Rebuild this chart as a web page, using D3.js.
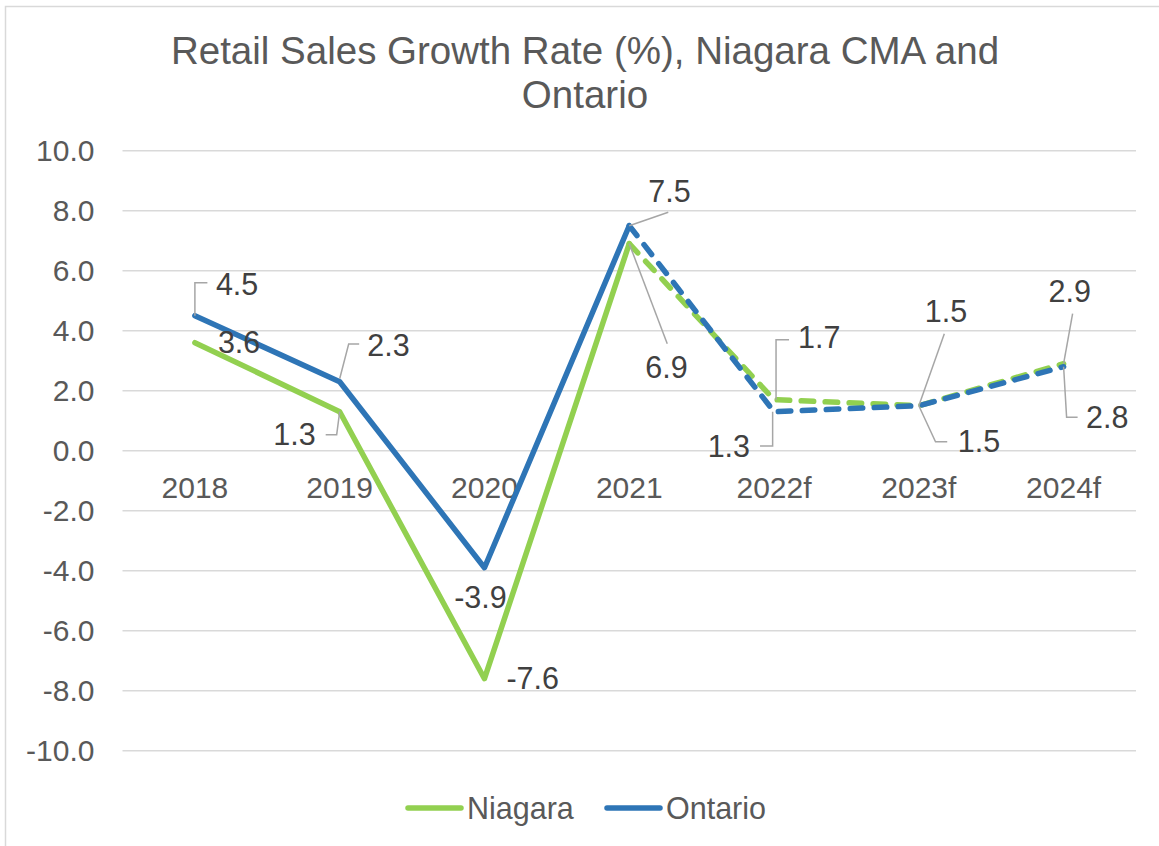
<!DOCTYPE html>
<html>
<head>
<meta charset="utf-8">
<script src="https://cdn.jsdelivr.net/npm/d3@7"></script>
<style>
  body { margin: 0; background: white; }
  text { font-family: "Liberation Sans", Arial, sans-serif; }
</style>
</head>
<body>
<div id="chart"></div>
<script>
// data
const years = ["2018", "2019", "2020", "2021", "2022f", "2023f", "2024f"];
const niagara = [3.6, 1.3, -7.6, 6.9, 1.7, 1.5, 2.9];
const ontario = [4.5, 2.3, -3.9, 7.5, 1.3, 1.5, 2.8];
const yTicks = [-10, -8, -6, -4, -2, 0, 2, 4, 6, 8, 10];
// index where the forecast (dashed) part starts
const forecastFrom = 3;

// label placement, offsets from the point (tx,ty = text, pts = leader line)
const niagaraLabels = [
  {tx: 23, ty: 0, anchor: "start"},
  {tx: -24, ty: 23, anchor: "end", pts: [[0, 0], [-3, 23], [-14, 23]]},
  {tx: 22, ty: 0, anchor: "start"},
  {tx: 16, ty: 124, anchor: "start", pts: [[0, 0], [38, 100]]},
  {tx: 24, ty: -62, anchor: "start", pts: [[2, 0], [2, -60], [15, -60]]},
  {tx: 6, ty: -94, anchor: "start", pts: [[0, 0], [25.5, -72]]},
  {tx: -15, ty: -72, anchor: "start", pts: [[0, 0], [9, -50]]}
];
const ontarioLabels = [
  {tx: 21, ty: -31, anchor: "start", pts: [[0, 0], [0, -33], [12.5, -33]]},
  {tx: 27.6, ty: -36.7, anchor: "start", pts: [[0, -3], [9, -37.7], [19.5, -37.7]]},
  {tx: -4, ty: 30, anchor: "middle"},
  {tx: 19, ty: -34, anchor: "start", pts: [[0, 0], [39, -13.4]]},
  {tx: -24, ty: 35, anchor: "end", pts: [[-1.4, 0], [-1.4, 34.3], [-14, 34.3]]},
  {tx: 39, ty: 36, anchor: "start", pts: [[0, 0], [16.7, 36], [28.4, 36]]},
  {tx: 22.4, ty: 50.6, anchor: "start", pts: [[0, 0], [3, 50.6], [14, 50.6]]}
];

const green = "#92D050";
const blue = "#2E75B6";

let width = 1159;
let height = 846;

let margin = {top: 150.7, bottom: 95.3, left: 122.5, right: 23};

let svg = d3.select("#chart").append("svg")
  .attr("width", width)
  .attr("height", height)
  .style("background", "white");

// chart area border
svg.append("rect")
  .attr("x", 5.5).attr("y", 6.5)
  .attr("width", 1200).attr("height", 900)
  .attr("fill", "none")
  .attr("stroke", "#d9d9d9")
  .attr("stroke-width", 1.5);

// scales
let x = d3.scaleBand()
  .domain(years)
  .range([margin.left, width - margin.right]);

let y = d3.scaleLinear()
  .domain([-10, 10])
  .range([height - margin.bottom, margin.top]);

// gridlines
svg.append("g")
  .selectAll("line")
  .data(yTicks)
  .enter()
  .append("line")
  .attr("x1", margin.left)
  .attr("x2", width - margin.right)
  .attr("y1", d => y(d))
  .attr("y2", d => y(d))
  .attr("stroke", "#d9d9d9")
  .attr("stroke-width", 1.5);

// y axis labels (plain hyphen for negatives like the original)
let yAxis = svg.append("g")
  .attr("transform", `translate(${margin.left - 28},0)`)
  .call(d3.axisLeft(y).tickValues(yTicks).tickFormat(d => d.toFixed(1)).tickSize(0).tickPadding(0));
yAxis.select(".domain").remove();
yAxis.selectAll("text")
  .attr("fill", "#595959")
  .style("font-size", "30px")
  .style("font-family", "Liberation Sans, Arial, sans-serif");

// x axis labels sit on the zero line
let xAxis = svg.append("g")
  .attr("transform", `translate(0,${y(0)})`)
  .call(d3.axisBottom(x).tickSize(0).tickPadding(26));
xAxis.select(".domain").remove();
xAxis.selectAll("text")
  .attr("fill", "#595959")
  .style("font-size", "30px")
  .style("font-family", "Liberation Sans, Arial, sans-serif");

// title
let title = svg.append("text")
  .attr("text-anchor", "middle")
  .attr("fill", "#595959")
  .style("font-size", "38.5px");
title.append("tspan").attr("x", 585).attr("y", 64).text("Retail Sales Growth Rate (%), Niagara CMA and");
title.append("tspan").attr("x", 585).attr("y", 108).text("Ontario");

// lines, solid for actuals and dashed for forecasts
let line = d3.line()
  .x(d => x(d.year) + x.bandwidth() / 2)
  .y(d => y(d.value));

function drawSeries(values, color) {
  let pts = values.map((v, i) => ({year: years[i], value: v}));
  svg.append("path")
    .datum(pts.slice(0, forecastFrom + 1))
    .attr("d", line)
    .attr("fill", "none")
    .attr("stroke", color)
    .attr("stroke-width", 5.5)
    .attr("stroke-linejoin", "round")
    .attr("stroke-linecap", "round");
  svg.append("path")
    .datum(pts.slice(forecastFrom))
    .attr("d", line)
    .attr("fill", "none")
    .attr("stroke", color)
    .attr("stroke-width", 5.5)
    .attr("stroke-dasharray", "12.5,11.5")
    .attr("stroke-linecap", "round");
}
drawSeries(niagara, green);
drawSeries(ontario, blue);

// data labels with leader lines
function drawLabels(values, labels) {
  values.forEach((v, i) => {
    let px = x(years[i]) + x.bandwidth() / 2;
    let py = y(v);
    let lab = labels[i];
    if (lab.pts) {
      svg.append("polyline")
        .attr("points", lab.pts.map(p => [px + p[0], py + p[1]].join(",")).join(" "))
        .attr("fill", "none")
        .attr("stroke", "#a6a6a6")
        .attr("stroke-width", 1.5);
    }
    svg.append("text")
      .attr("x", px + lab.tx)
      .attr("y", py + lab.ty)
      .attr("dy", "0.35em")
      .attr("text-anchor", lab.anchor)
      .attr("fill", "#404040")
      .style("font-size", "30.5px")
      .text(v.toFixed(1));
  });
}
drawLabels(niagara, niagaraLabels);
drawLabels(ontario, ontarioLabels);

// legend
const legendItems = [
  {name: "Niagara", color: green, x: 408},
  {name: "Ontario", color: blue, x: 607}
];
let legend = svg.append("g");
legendItems.forEach(item => {
  legend.append("line")
    .attr("x1", item.x).attr("x2", item.x + 53)
    .attr("y1", 808).attr("y2", 808)
    .attr("stroke", item.color)
    .attr("stroke-width", 5.5)
    .attr("stroke-linecap", "round");
  legend.append("text")
    .attr("x", item.x + 59)
    .attr("y", 808)
    .attr("dy", "0.35em")
    .attr("fill", "#595959")
    .style("font-size", "30.5px")
    .text(item.name);
});
</script>
</body>
</html>
